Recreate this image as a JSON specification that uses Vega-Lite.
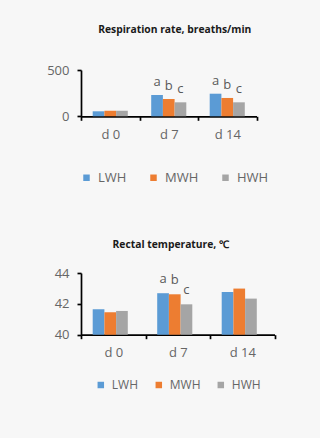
{
  "$schema": "https://vega.github.io/schema/vega-lite/v6.json",
  "background": "#f7f7f7",
  "padding": {"left": 46, "top": 24, "right": 44, "bottom": 51},
  "autosize": {"type": "pad"},
  "spacing": 54,
  "config": {
    "font": "Open Sans",
    "view": {"stroke": null},
    "axis": {
      "domainColor": "#000000",
      "domainWidth": 1.7,
      "tickColor": "#000000",
      "tickWidth": 1.7,
      "labelColor": "#666666",
      "labelFontSize": 13,
      "labelFont": "Open Sans",
      "labelOverlap": false,
      "grid": false,
      "title": null
    }
  },
  "vconcat": [
    {
      "width": 175.5,
      "height": 46.3,
      "title": {"text": "Respiration rate, breaths/min", "fontSize": 10.3, "fontWeight": "bold", "color": "#1a1a1a", "offset": 29, "dx": 6, "frame": "group", "anchor": "middle"},
      "data": {"values": [
        {"day": "d 0", "group": "LWH", "value": 54, "sig": ""},
        {"day": "d 0", "group": "MWH", "value": 60, "sig": ""},
        {"day": "d 0", "group": "HWH", "value": 60, "sig": ""},
        {"day": "d 7", "group": "LWH", "value": 230, "sig": "a"},
        {"day": "d 7", "group": "MWH", "value": 187, "sig": "b"},
        {"day": "d 7", "group": "HWH", "value": 151, "sig": "c"},
        {"day": "d 14", "group": "LWH", "value": 244, "sig": "a"},
        {"day": "d 14", "group": "MWH", "value": 198, "sig": "b"},
        {"day": "d 14", "group": "HWH", "value": 151, "sig": "c"}
      ]},
      "encoding": {
        "x": {"field": "day", "type": "nominal", "sort": ["d 0", "d 7", "d 14"], "scale": {"paddingInner": 0, "paddingOuter": 0}, "axis": {"labelAngle": 0, "tickBand": "extent", "tickSize": 4, "labelPadding": 8}},
        "xOffset": {"field": "group", "type": "nominal", "sort": ["LWH", "MWH", "HWH"], "scale": {"paddingOuter": 1.09, "paddingInner": 0}},
        "y": {"field": "value", "type": "quantitative", "scale": {"domain": [0, 500]}, "axis": {"values": [0, 500], "tickSize": 4, "labelPadding": 8, "labelOverlap": false}}
      },
      "layer": [
        {
          "mark": {"type": "bar"},
          "encoding": {
            "color": {"field": "group", "type": "nominal", "sort": ["LWH", "MWH", "HWH"], "scale": {"domain": ["LWH", "MWH", "HWH"], "range": ["#5B9BD5", "#ED7D31", "#A5A5A5"]},
              "legend": {"orient": "none", "legendX": -1, "legendY": 101, "direction": "horizontal", "title": null, "symbolType": "square", "symbolSize": 42, "symbolStrokeWidth": 0, "labelFontSize": 13, "labelColor": "#666666", "columnPadding": 20, "labelOffset": 5, "padding": 0}}
          }
        },
        {
          "mark": {"type": "text", "dy": -9, "baseline": "alphabetic", "fontSize": 13, "color": "#595959"},
          "encoding": {
            "text": {"field": "sig"}
          }
        }
      ]
    },
    {
      "width": 193.5,
      "height": 61.7,
      "title": {"text": "Rectal temperature, ℃", "fontSize": 10.3, "fontWeight": "bold", "color": "#1a1a1a", "offset": 17, "dx": -7, "frame": "group", "anchor": "middle"},
      "data": {"values": [
        {"day": "d 0", "group": "LWH", "value": 41.65, "sig": ""},
        {"day": "d 0", "group": "MWH", "value": 41.45, "sig": ""},
        {"day": "d 0", "group": "HWH", "value": 41.54, "sig": ""},
        {"day": "d 7", "group": "LWH", "value": 42.69, "sig": "a"},
        {"day": "d 7", "group": "MWH", "value": 42.62, "sig": "b"},
        {"day": "d 7", "group": "HWH", "value": 41.97, "sig": "c"},
        {"day": "d 14", "group": "LWH", "value": 42.77, "sig": ""},
        {"day": "d 14", "group": "MWH", "value": 42.99, "sig": ""},
        {"day": "d 14", "group": "HWH", "value": 42.34, "sig": ""}
      ]},
      "encoding": {
        "x": {"field": "day", "type": "nominal", "sort": ["d 0", "d 7", "d 14"], "scale": {"paddingInner": 0, "paddingOuter": 0}, "axis": {"labelAngle": 0, "tickBand": "extent", "tickSize": 4, "labelPadding": 8}},
        "xOffset": {"field": "group", "type": "nominal", "sort": ["LWH", "MWH", "HWH"], "scale": {"paddingOuter": 1.0, "paddingInner": 0}},
        "y": {"field": "value", "type": "quantitative", "scale": {"domain": [40, 44], "zero": false}, "axis": {"values": [40, 42, 44], "tickSize": 4, "labelPadding": 8, "labelOverlap": false}}
      },
      "layer": [
        {
          "mark": {"type": "bar"},
          "encoding": {
            "y2": {"datum": 40},
            "color": {"field": "group", "type": "nominal", "sort": ["LWH", "MWH", "HWH"], "scale": {"domain": ["LWH", "MWH", "HWH"], "range": ["#5B9BD5", "#ED7D31", "#A5A5A5"]},
              "legend": {"orient": "none", "legendX": 13.8, "legendY": 106, "direction": "horizontal", "title": null, "symbolType": "square", "symbolSize": 42, "symbolStrokeWidth": 0, "labelFontSize": 12, "labelColor": "#666666", "columnPadding": 14, "labelOffset": 5, "padding": 0}}
          }
        },
        {
          "mark": {"type": "text", "dy": -10, "baseline": "alphabetic", "fontSize": 13, "color": "#595959"},
          "encoding": {
            "text": {"field": "sig"}
          }
        }
      ]
    }
  ],
  "resolve": {"scale": {"color": "independent"}}
}
